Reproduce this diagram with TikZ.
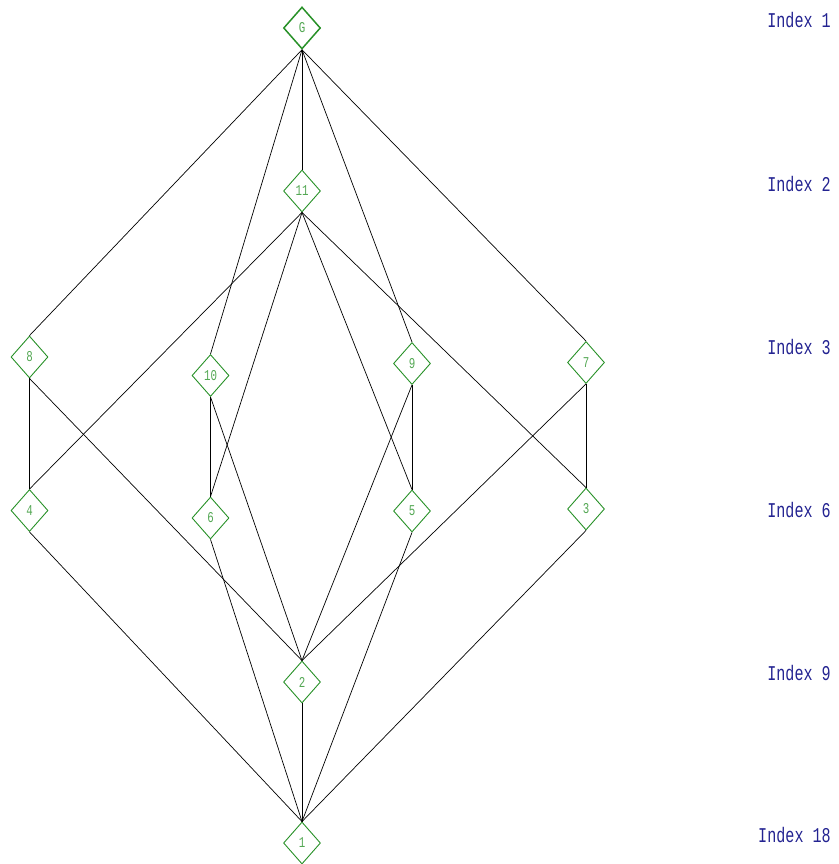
\documentclass[tikz,border=0pt]{standalone}
\usepackage{fontspec}
\usepackage{tikz}
\usetikzlibrary{shapes.geometric}
\newfontfamily\latfont[FakeStretch=0.72]{Liberation Mono}
\definecolor{subgrp}{RGB}{40,145,40}
\definecolor{idxblue}{RGB}{35,35,145}

\begin{document}
\begin{tikzpicture}[x=1pt,y=-1pt,sg/.style={diamond,draw=subgrp,text=subgrp!80!white,line width=0.9pt,minimum width=37pt,minimum height=42pt,inner sep=0pt,font=\latfont\fontsize{15}{15}\selectfont},idx/.style={anchor=east,inner sep=0pt,text=idxblue,font=\latfont\fontsize{21}{21}\selectfont},lnk/.style={line width=0.7pt}]
\useasboundingbox (0,0) rectangle (838,864);
\node[sg,line width=1.5pt] (sG) at (302,28) {G};
\node[sg] (s11) at (302,191) {11};
\node[sg] (s8) at (29.5,357) {8};
\node[sg] (s10) at (210.5,375.5) {10};
\node[sg] (s9) at (412,363.5) {9};
\node[sg] (s7) at (586,362.5) {7};
\node[sg] (s4) at (29.5,510.5) {4};
\node[sg] (s6) at (210.5,518) {6};
\node[sg] (s5) at (412,511) {5};
\node[sg] (s3) at (586,509) {3};
\node[sg] (s2) at (302,682) {2};
\node[sg] (s1) at (302,843) {1};
\foreach \a/\b in %
{sG/s8,sG/s10,sG/s11,sG/s9,sG/s7,s11/s4,s11/s6,s11/s5,s11/s3,s8/s4,s8/s2,s10/s6,s10/s2,s9/s5,s9/s2,s7/s3,s7/s2,s4/s1,s6/s1,s5/s1,s3/s1,s2/s1} {
   \draw[lnk] (\a.south) -- (\b.north);
}
\foreach \y/\n in %
{20/1,184/2,347/3,510/6,673/9,835/18} {
   \node[idx] (i\n) at (831,\y) {Index \n};
}
\end{tikzpicture}
\end{document}
